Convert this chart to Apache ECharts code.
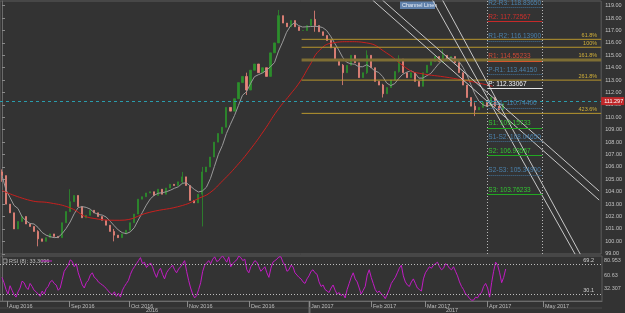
<!DOCTYPE html>
<html>
<head>
<meta charset="utf-8">
<script src="https://cdn.jsdelivr.net/npm/echarts@6/dist/echarts.min.js"></script>
<style>
html,body{margin:0;padding:0;background:#333333;}
#main{width:625px;height:313px;}
</style>
</head>
<body>
<div id="main"></div>
<script>
// slots on the time axis (about 1.5 trading days each), data fills the first ones
var slotCount = 150;
var firstOpen = 105.6;
var closes = [
    105.3, 103.0, 102.3, 101.0, 101.6, 102.0, 101.4, 101.2, 100.8, 100.2,
    100.0, 100.3, 100.6, 100.4, 100.3, 101.5, 102.4, 103.2, 103.7, 102.8,
    101.9, 102.1, 102.5, 102.3, 102.0, 101.7, 101.3, 100.8, 100.5, 100.3,
    100.6, 100.9, 101.5, 102.2, 103.4, 103.6, 103.9, 104.0, 103.7, 104.2,
    103.8, 104.3, 104.6, 104.5, 104.8, 105.2, 104.5, 103.3, 103.1, 103.8,
    105.6, 106.0, 106.8, 108.0, 108.7, 109.2, 110.8, 110.5, 111.5, 112.8,
    113.3, 112.2, 113.8, 114.3, 113.6, 114.0, 113.3, 115.2, 116.0, 118.2,
    117.6, 117.3, 117.8, 117.3, 117.0, 117.0, 117.4, 117.9, 117.4, 116.9,
    116.6, 116.2, 115.6, 114.6, 114.2, 113.6, 114.2, 115.0, 114.4, 113.2,
    113.6, 115.0, 114.0, 112.9, 112.6, 111.9, 112.4, 113.0, 113.7, 114.7,
    113.6, 113.2, 113.6, 112.9, 112.5, 113.6, 114.2, 114.5, 114.9, 114.5,
    115.0, 114.7, 114.9, 114.4, 113.6, 112.6, 111.6, 110.9, 110.6, 110.8,
    111.2, 110.9, 111.6, 110.9, 110.6, 111.1
];
// [low, high] of the candles that show a visible wick
var wicks = {
    0: [104.8, 105.8], 9: [99.6, 100.9], 17: [103.0, 104.2], 28: [100.0, 101.0],
    45: [104.6, 105.6], 50: [101.2, 106.0], 61: [111.8, 113.6], 69: [116.0, 118.66],
    78: [116.9, 118.6], 85: [112.6, 114.3], 91: [113.5, 115.4], 95: [111.6, 112.7],
    99: [113.6, 115.0], 110: [114.4, 115.5], 118: [110.1, 111.2]
};
// slow moving average: [slot, price]
var slowMa = [
    [0, 104.1], [7, 103.3], [12, 103.1], [17, 102.7], [22, 101.9], [29.4, 101.7],
    [36.9, 102.35], [45.1, 102.9], [49.3, 103.5], [51.8, 103.9], [55.1, 104.9],
    [58.6, 106.1], [61.8, 107.35], [65.3, 108.9], [68.8, 110.6], [71.8, 111.8],
    [74.3, 112.85], [76.8, 114.2], [79.2, 115.4], [82.5, 116.0], [86.7, 116.1],
    [91, 116.0], [95.9, 115.2], [101.7, 113.8], [104.2, 113.55], [111.6, 113.2],
    [118.4, 112.8], [122.4, 112.5]
];
// RSI, two readings per slot
var rsi = [
    52, 45, 36, 30, 41, 35, 29, 26, 33, 38, 47, 45, 39, 36, 44, 40, 35, 33, 30, 27,
    34, 30, 37, 40, 46, 48, 44, 42, 35, 38, 49, 60, 64, 68, 75, 73, 66, 70, 58, 50,
    42, 38, 45, 48, 55, 58, 52, 50, 46, 44, 42, 40, 37, 34, 31, 29, 33, 27, 31, 26,
    35, 40, 44, 48, 56, 62, 66, 70, 74, 78, 70, 72, 65, 68, 71, 66, 58, 52, 60, 64,
    56, 50, 58, 62, 65, 68, 62, 58, 63, 66, 70, 74, 60, 48, 38, 30, 25, 28, 36, 45,
    60, 68, 71, 74, 70, 76, 79, 73, 74, 78, 80, 76, 72, 79, 66, 70, 73, 75, 80, 78,
    74, 76, 62, 58, 66, 70, 74, 72, 66, 60, 63, 66, 58, 52, 64, 72, 74, 76, 79, 79,
    72, 68, 60, 62, 68, 66, 58, 55, 52, 50, 46, 44, 50, 54, 60, 62, 58, 56, 46, 40,
    42, 36, 34, 32, 38, 42, 35, 30, 32, 28, 30, 25, 36, 44, 52, 58, 50, 46, 38, 30,
    35, 40, 55, 62, 52, 44, 36, 32, 34, 30, 28, 24, 30, 36, 44, 48, 52, 58, 64, 68,
    54, 46, 42, 40, 46, 50, 44, 38, 36, 34, 50, 58, 62, 66, 64, 68, 70, 72, 66, 62,
    64, 70, 68, 64, 62, 66, 60, 54, 46, 40, 36, 30, 28, 24, 22, 22, 26, 25, 30, 32,
    40, 44, 38, 26, 45, 60, 72, 68, 58, 45, 52, 63
];
var rsiLevels = [69.2, 30.1];
var monthTicks = [1.24, 16.69, 31.64, 46.09, 61.54, 76.49, 91.94, 105.4, 120.85, 134.8];
var monthNames = ['Aug 2016', 'Sep 2016', 'Oct 2016', 'Nov 2016', 'Dec 2016',
    'Jan 2017', 'Feb 2017', 'Mar 2017', 'Apr 2017', 'May 2017'];
var priceTicks = [];
for (var t = 99; t <= 119; t++) priceTicks.push(t);

var pivots = [
    {name: 'R2-R3', value: 118.83650, kind: 'mid'},
    {name: 'R2', value: 117.72567, kind: 'r2'},
    {name: 'R1-R2', value: 116.13900, kind: 'mid'},
    {name: 'R1', value: 114.55233, kind: 'r1'},
    {name: 'P-R1', value: 113.44150, kind: 'mid'},
    {name: 'P', value: 112.33067, kind: 'p'},
    {name: 'P-S1', value: 110.74400, kind: 'mid'},
    {name: 'S1', value: 109.15733, kind: 's'},
    {name: 'S1-S2', value: 108.04650, kind: 'mid'},
    {name: 'S2', value: 106.93567, kind: 's'},
    {name: 'S2-S3', value: 105.34900, kind: 'mid'},
    {name: 'S3', value: 103.76233, kind: 's'}
];
var fibs = [
    {name: '61.8%', value: 116.29},
    {name: '100%', value: 115.65},
    {name: '161.8%', value: 114.62},
    {name: '261.8%', value: 113.0},
    {name: '423.6%', value: 110.32}
];
var channels = [
    [[92.45, 119.46], [149.0, 103.33]],
    [[94.9, 119.46], [149.0, 104.05]],
    [[107.4, 119.46], [143.0, 98.96]],
    [[109.9, 119.46], [144.3, 98.96]]
];
var lastPrice = 111.31;
var lastPriceText = '111.297';

var pivotFrom = 121.1, pivotTo = 134.8, fibFrom = 74.75, fibTo = 149.5;
var pivotColors = {
    mid: ['#41729a', '#4a80ab'], r2: ['#c62a2a', '#d0302c'], r1: ['#d4552c', '#cf4a34'],
    p: ['#e8e8e8', '#f4f4f4'], s: ['#22a822', '#33c633']
};

var font = 'Liberation Sans, Arial, sans-serif';

// candles
var candles = [];
var prev = firstOpen;
for (var i = 0; i < closes.length; i++) {
    var o = prev, c = closes[i];
    var lo = Math.min(o, c), hi = Math.max(o, c);
    if (wicks[i]) {
        lo = Math.min(lo, wicks[i][0]);
        hi = Math.max(hi, wicks[i][1]);
    }
    candles.push([o, c, lo, hi]);
    prev = c;
}
// fast moving average (grey)
var fastMa = [];
for (var i = 0; i < closes.length; i++) {
    var s = 0, n = 0;
    for (var k = Math.max(0, i - 4); k <= i; k++) { s += closes[k]; n++; }
    fastMa.push(+(s / n).toFixed(3));
}
var cats = [];
for (var i = 0; i < slotCount; i++) cats.push(String(i));

var pivotLines = pivots.map(function (p) {
    var col = pivotColors[p.kind];
    var ls = {color: col[0], width: 1, type: p.kind === 'mid' ? 'dotted' : 'solid'};
    return [{
        coord: [pivotFrom, p.value],
        lineStyle: ls,
        label: {
            show: true, position: 'insideStartTop', distance: [1, 1],
            formatter: p.name + ': ' + p.value.toFixed(5),
            color: col[1], fontSize: 6.5, fontFamily: font
        }
    }, {coord: [pivotTo, p.value], lineStyle: ls}];
});

var series = [
    {
        type: 'candlestick', xAxisIndex: 0, yAxisIndex: 0,
        data: candles, barWidth: 1.6,
        itemStyle: {color: '#2c8e2c', color0: '#ea857b', borderColor: '#2c8e2c', borderColor0: '#ea857b', borderWidth: 0.8}
    },
    {
        type: 'line', xAxisIndex: 0, yAxisIndex: 0, data: fastMa, showSymbol: false,
        lineStyle: {color: '#9a9a9a', width: 1}
    },
    {
        type: 'line', xAxisIndex: 1, yAxisIndex: 0, data: slowMa, showSymbol: false, smooth: true,
        lineStyle: {color: '#c8201e', width: 1}
    }
];
// fib lines, each labelled at its right end
fibs.forEach(function (f) {
    var thick = f.name === '161.8%';
    series.push({
        type: 'line', xAxisIndex: 1, yAxisIndex: 0, showSymbol: false, silent: true,
        data: [[fibFrom, f.value], [fibTo, f.value]],
        lineStyle: {color: thick ? '#7e6e34' : '#b8962e', width: thick ? 3 : 1},
        endLabel: {
            show: true, formatter: f.name, color: '#d2b038', fontSize: 5.5, fontFamily: font,
            align: 'right', verticalAlign: 'bottom', distance: 0, offset: [-4, thick ? -2 : -1]
        }
    });
});
series.push({
    type: 'line', xAxisIndex: 1, yAxisIndex: 0, data: [], silent: true,
    markLine: {
        silent: true, symbol: ['none', 'none'], animation: false,
        data: pivotLines.concat([
            {xAxis: pivotFrom, lineStyle: {color: '#b8b8b8', type: [1, 2], width: 1}, label: {show: false}},
            {xAxis: pivotTo, lineStyle: {color: '#b8b8b8', type: [1, 2], width: 1}, label: {show: false}},
            {
                yAxis: lastPrice, lineStyle: {color: '#2a9cac', type: [3, 3], width: 1},
                label: {
                    show: true, position: 'end', distance: 0, formatter: lastPriceText,
                    backgroundColor: '#c0282a', color: '#ffffff', fontSize: 5.5, fontFamily: font,
                    padding: [1, 2, 1, 3], width: 18
                }
            }
        ])
    }
});
channels.forEach(function (ch) {
    series.push({
        type: 'line', xAxisIndex: 1, yAxisIndex: 0, data: ch, showSymbol: false,
        lineStyle: {color: '#c8c8c8', width: 1}
    });
});
series.push({
    type: 'line', xAxisIndex: 2, yAxisIndex: 1, showSymbol: false,
    data: rsi.map(function (v, i) { return [i / 2, v]; }),
    lineStyle: {color: '#c21cc4', width: 1},
    markLine: {
        silent: true, symbol: ['none', 'none'], animation: false,
        data: rsiLevels.map(function (v) {
            return {
                yAxis: v, lineStyle: {color: '#bdbdbd', type: [1, 2], width: 1},
                label: {show: true, position: 'insideEndTop', distance: [8, 1], formatter: String(v),
                    color: '#cfcfcf', fontSize: 5.5, fontFamily: font}
            };
        })
    }
});

var chart = echarts.init(document.getElementById('main'));
chart.setOption({
    backgroundColor: '#333333',
    animation: false,
    grid: [
        {left: 0, right: 23, top: 1, height: 253, show: true, borderColor: '#5c5c5c', borderWidth: 1},
        {left: 0, right: 23, top: 256, height: 45, show: true, borderColor: '#5c5c5c', borderWidth: 1}
    ],
    xAxis: [
        {type: 'category', gridIndex: 0, data: cats, boundaryGap: true, show: false},
        {type: 'value', gridIndex: 0, min: -0.5, max: slotCount - 0.5, show: false},
        {
            type: 'value', gridIndex: 1, min: -0.5, max: slotCount - 0.5, position: 'bottom',
            splitLine: {show: false},
            axisLine: {lineStyle: {color: '#6a6a6a'}},
            axisTick: {show: true, customValues: monthTicks, length: 6, lineStyle: {color: '#8a8a8a'}},
            axisLabel: {
                customValues: monthTicks, align: 'left', margin: 2, padding: [0, 0, 0, 2],
                color: '#bdbdbd', fontSize: 5.5, fontFamily: font,
                formatter: function (v) {
                    var k = 0;
                    for (var i = 0; i < monthTicks.length; i++) if (Math.abs(monthTicks[i] - v) < 0.01) k = i;
                    return monthNames[k];
                }
            }
        }
    ],
    yAxis: [
        {
            type: 'value', gridIndex: 0, position: 'right', min: 98.98, max: 119.38, scale: true,
            splitLine: {show: false},
            axisLine: {show: true, lineStyle: {color: '#6a6a6a'}},
            axisTick: {show: true, customValues: priceTicks, length: 3, lineStyle: {color: '#8a8a8a'}},
            axisLabel: {
                customValues: priceTicks, margin: 4, color: '#c4c4c4', fontSize: 5.5, fontFamily: font,
                formatter: function (v) { return v.toFixed(2); }
            }
        },
        {
            type: 'value', gridIndex: 1, position: 'right', min: 20.88, max: 80.13,
            splitLine: {show: false}, axisLabel: {show: false}, axisTick: {show: false},
            axisLine: {show: true, lineStyle: {color: '#6a6a6a'}}
        }
    ],
    graphic: [
        {type: 'rect', shape: {x: 400, y: 1.5, width: 35, height: 7.5}, style: {fill: '#5f80aa'}, silent: true},
        {type: 'text', x: 402, y: 5.3, silent: true,
            style: {text: 'Channel Lines', fill: '#e8eef8', fontSize: 5.5, fontFamily: font, verticalAlign: 'middle'}},
        {type: 'rect', shape: {x: 3, y: 259, width: 4, height: 4}, style: {fill: 'none', stroke: '#9a9a9a', lineWidth: 1}, silent: true},
        {type: 'text', x: 9, y: 261, silent: true,
            style: {text: 'RSI (8): 33.3096', fill: '#bdbdbd', fontSize: 5.5, fontFamily: font, verticalAlign: 'middle'}},
        {type: 'line', shape: {x1: 41, y1: 261, x2: 52, y2: 261}, style: {stroke: '#c21cc4', lineWidth: 1}, silent: true},
        {type: 'text', x: 604, y: 260, silent: true,
            style: {text: '80.953', fill: '#bdbdbd', fontSize: 5.5, fontFamily: font, verticalAlign: 'middle'}},
        {type: 'text', x: 604, y: 275, silent: true,
            style: {text: '60.63', fill: '#bdbdbd', fontSize: 5.5, fontFamily: font, verticalAlign: 'middle'}},
        {type: 'text', x: 604, y: 288.6, silent: true,
            style: {text: '32.307', fill: '#bdbdbd', fontSize: 5.5, fontFamily: font, verticalAlign: 'middle'}},
        {type: 'line', shape: {x1: 0, y1: 308, x2: 602, y2: 308}, style: {stroke: '#4a4a4a', lineWidth: 1}, silent: true},
        {type: 'line', shape: {x1: 309.5, y1: 301, x2: 309.5, y2: 313}, style: {stroke: '#6a6a6a', lineWidth: 2}, silent: true},
        {type: 'text', x: 152, y: 310.5, silent: true,
            style: {text: '2016', fill: '#bdbdbd', fontSize: 5.5, fontFamily: font, align: 'center', verticalAlign: 'middle'}},
        {type: 'text', x: 452, y: 310.5, silent: true,
            style: {text: '2017', fill: '#bdbdbd', fontSize: 5.5, fontFamily: font, align: 'center', verticalAlign: 'middle'}}
    ],
    series: series
});
</script>
</body>
</html>
